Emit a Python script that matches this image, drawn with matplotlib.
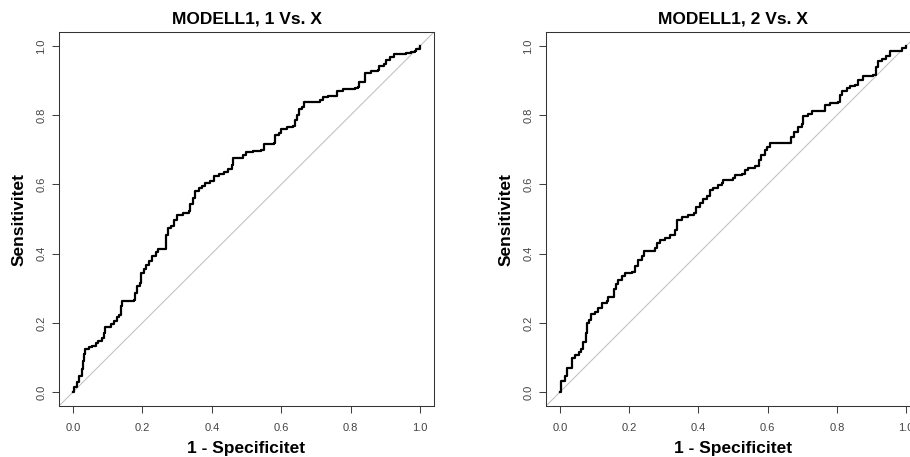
import matplotlib
matplotlib.use('Agg')
import matplotlib.pyplot as plt

plt.rcParams['font.family'] = ['Liberation Sans', 'DejaVu Sans']

# ROC curve for MODELL1, class 1 vs rest
fpr_1 = [0.0, 0.004, 0.011, 0.019, 0.025, 0.029, 0.033, 0.036, 0.047, 0.056,
         0.066, 0.073, 0.084, 0.090, 0.092, 0.104, 0.111, 0.119, 0.126, 0.134,
         0.138, 0.141, 0.176, 0.178, 0.184, 0.193, 0.197, 0.205, 0.210, 0.220,
         0.228, 0.238, 0.245, 0.267, 0.269, 0.273, 0.283, 0.291, 0.300, 0.317,
         0.334, 0.338, 0.346, 0.353, 0.362, 0.372, 0.381, 0.396, 0.405, 0.420,
         0.434, 0.448, 0.458, 0.460, 0.482, 0.489, 0.499, 0.520, 0.541, 0.549,
         0.579, 0.582, 0.595, 0.598, 0.616, 0.635, 0.640, 0.644, 0.652, 0.659,
         0.665, 0.688, 0.711, 0.719, 0.735, 0.754, 0.761, 0.778, 0.812, 0.821,
         0.824, 0.836, 0.840, 0.859, 0.879, 0.883, 0.895, 0.902, 0.914, 0.924,
         0.960, 0.974, 0.985, 0.989, 1.0]
tpr_1 = [0.0, 0.014, 0.029, 0.048, 0.067, 0.091, 0.110, 0.124, 0.129, 0.134,
         0.142, 0.148, 0.155, 0.172, 0.187, 0.189, 0.196, 0.206, 0.218, 0.224,
         0.249, 0.263, 0.266, 0.287, 0.306, 0.314, 0.344, 0.356, 0.368, 0.378,
         0.392, 0.404, 0.413, 0.416, 0.455, 0.474, 0.480, 0.498, 0.512, 0.517,
         0.524, 0.544, 0.560, 0.582, 0.589, 0.595, 0.605, 0.611, 0.624, 0.630,
         0.636, 0.643, 0.656, 0.675, 0.677, 0.684, 0.694, 0.697, 0.700, 0.718,
         0.720, 0.742, 0.748, 0.761, 0.767, 0.770, 0.785, 0.799, 0.818, 0.823,
         0.837, 0.839, 0.844, 0.852, 0.854, 0.856, 0.869, 0.876, 0.878, 0.882,
         0.895, 0.897, 0.923, 0.926, 0.930, 0.943, 0.949, 0.959, 0.968, 0.976,
         0.978, 0.981, 0.984, 0.990, 1.0]

# ROC curve for MODELL1, class 2 vs rest
fpr_2 = [0.0, 0.002, 0.004, 0.012, 0.015, 0.020, 0.020, 0.035, 0.036, 0.044,
         0.054, 0.062, 0.066, 0.073, 0.075, 0.078, 0.085, 0.090, 0.102, 0.110,
         0.121, 0.136, 0.140, 0.152, 0.155, 0.163, 0.169, 0.179, 0.188, 0.208,
         0.217, 0.227, 0.237, 0.242, 0.261, 0.275, 0.280, 0.289, 0.304, 0.318,
         0.333, 0.338, 0.352, 0.371, 0.388, 0.392, 0.405, 0.414, 0.424, 0.434,
         0.443, 0.458, 0.467, 0.472, 0.501, 0.506, 0.527, 0.535, 0.544, 0.563,
         0.575, 0.581, 0.592, 0.597, 0.607, 0.660, 0.667, 0.677, 0.688, 0.698,
         0.703, 0.717, 0.727, 0.763, 0.765, 0.780, 0.802, 0.809, 0.815, 0.828,
         0.837, 0.852, 0.862, 0.876, 0.905, 0.912, 0.919, 0.930, 0.943, 0.953,
         0.977, 0.987, 1.0]
tpr_2 = [0.0, 0.014, 0.031, 0.033, 0.048, 0.057, 0.069, 0.071, 0.100, 0.107,
         0.115, 0.124, 0.144, 0.145, 0.172, 0.201, 0.209, 0.225, 0.232, 0.244,
         0.258, 0.263, 0.275, 0.275, 0.297, 0.311, 0.325, 0.335, 0.344, 0.346,
         0.364, 0.383, 0.392, 0.407, 0.407, 0.416, 0.431, 0.440, 0.445, 0.455,
         0.469, 0.498, 0.507, 0.512, 0.517, 0.536, 0.545, 0.557, 0.567, 0.584,
         0.589, 0.598, 0.605, 0.614, 0.617, 0.627, 0.630, 0.641, 0.646, 0.653,
         0.670, 0.684, 0.699, 0.708, 0.720, 0.720, 0.737, 0.751, 0.766, 0.775,
         0.796, 0.804, 0.811, 0.811, 0.830, 0.834, 0.837, 0.858, 0.871, 0.878,
         0.885, 0.887, 0.901, 0.914, 0.917, 0.938, 0.955, 0.962, 0.971, 0.984,
         0.986, 0.995, 1.0]

ticks = [0.0, 0.2, 0.4, 0.6, 0.8, 1.0]
tick_labels = ['0.0', '0.2', '0.4', '0.6', '0.8', '1.0']


def roc_plot(ax, fpr, tpr, title):
    ax.axline((0, 0), slope=1, color='#c0c0c0', lw=0.75, zorder=1)
    ax.plot(fpr, tpr, color='black', lw=1.6, drawstyle='steps-post', zorder=2)

    ax.set_xlim(-0.04, 1.04)
    ax.set_ylim(-0.04, 1.04)
    ax.set_xticks(ticks)
    ax.set_xticklabels(tick_labels)
    ax.set_yticks(ticks)
    ax.set_yticklabels(tick_labels, rotation=90, va='center')
    ax.tick_params(direction='out', length=5, width=0.75, color='#404040',
                   labelcolor='#444444', labelsize=8)
    ax.tick_params(axis='x', pad=7)
    ax.tick_params(axis='y', pad=4)
    for s in ax.spines.values():
        s.set_color('#333333')
        s.set_linewidth(0.75)

    ax.set_title(title, fontweight='bold', fontsize=12.5, pad=6)
    ax.set_xlabel("1 - Specificitet", fontweight='bold', fontsize=12.5, labelpad=6)
    ax.set_ylabel("Sensitivitet", fontweight='bold', fontsize=12.5, labelpad=7)


if __name__ == '__main__':
    fig = plt.figure(figsize=(9.1, 4.57), dpi=100)
    ax1 = fig.add_axes([59 / 910, 51 / 457, 375 / 910, 374 / 457])
    ax2 = fig.add_axes([546 / 910, 51 / 457, 374 / 910, 374 / 457])
    roc_plot(ax1, fpr_1, tpr_1, "MODELL1, 1 Vs. X")
    roc_plot(ax2, fpr_2, tpr_2, "MODELL1, 2 Vs. X")
    fig.savefig("out.png", dpi=100)
